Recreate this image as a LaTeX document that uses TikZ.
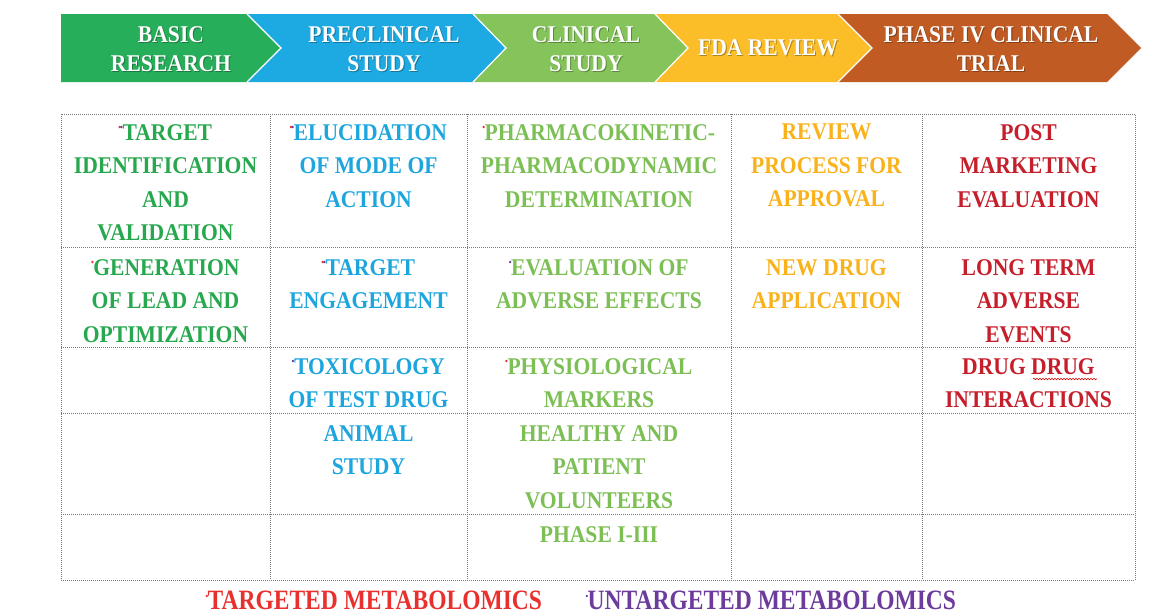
\documentclass[tikz,border=0pt]{standalone}
\usepackage{fontspec}
\usetikzlibrary{decorations.pathmorphing}
\newfontfamily\deco{Liberation Serif}[FakeStretch=0.9]
\newfontfamily\legfont{Liberation Serif}[FakeStretch=0.84]

\definecolor{chgreen}{HTML}{27AE5A}
\definecolor{chblue}{HTML}{1DA9E1}
\definecolor{chlgreen}{HTML}{84C45A}
\definecolor{chyellow}{HTML}{FBBD28}
\definecolor{chbrown}{HTML}{C05B23}
\definecolor{txgreen}{HTML}{27A84E}
\definecolor{txblue}{HTML}{1DA6DE}
\definecolor{txlgreen}{HTML}{7CBF55}
\definecolor{txyellow}{HTML}{F9B21C}
\definecolor{txred}{HTML}{C61F2C}
\definecolor{mkred}{HTML}{E8302E}
\definecolor{mkpurple}{HTML}{6C3B9C}
\definecolor{gridgray}{HTML}{7A7A7A}

% small coloured marker set before an entry
\newcommand\mk[1]{\smash{\raisebox{10pt}{\fontsize{9}{9}\selectfont\textcolor{#1}{\kern-0.5pt\textbullet\kern-0.5pt}}}}

\tikzset{
  chev/.style={draw=white, line width=1.2pt, line join=miter},
  chevtext/.style={text=white, align=center, inner sep=0pt,
    font=\deco\bfseries\fontsize{24}{29}\selectfont},
  chevshadow/.style={chevtext, text=black, opacity=0.3},
  cell/.style={anchor=north, align=center, inner sep=0pt,
    font=\deco\bfseries\fontsize{24}{33.5}\selectfont},
  gridline/.style={draw=gridgray, line width=0.9pt, dash pattern=on 1pt off 1pt},
  legend/.style={inner sep=0pt, font=\legfont\bfseries\fontsize{28}{30}\selectfont}
}

\begin{document}
\begin{tikzpicture}[x=1pt, y=-1pt]
\useasboundingbox (0,0) rectangle (1150,613);

% stage arrows
\fill[chgreen]  (61,14) -- (247,14) -- (281,48) -- (247,82) -- (61,82) -- cycle;
\fill[chblue]   (247,14) -- (473,14) -- (506,48) -- (473,82) -- (247,82) -- (281,48) -- cycle;
\fill[chlgreen] (473,14) -- (655,14) -- (688,48) -- (655,82) -- (473,82) -- (506,48) -- cycle;
\fill[chyellow] (655,14) -- (838,14) -- (872,48) -- (838,82) -- (655,82) -- (688,48) -- cycle;
\fill[chbrown]  (838,14) -- (1107,14) -- (1141,48) -- (1107,82) -- (838,82) -- (872,48) -- cycle;
\draw[chev] (247,14) -- (281,48) -- (247,82);
\draw[chev] (473,14) -- (506,48) -- (473,82);
\draw[chev] (655,14) -- (688,48) -- (655,82);
\draw[chev] (838,14) -- (872,48) -- (838,82);

% stage titles with a soft shadow
\node[chevshadow] (s1) at (172,50) {BASIC\\RESEARCH};
\node[chevshadow] (s2) at (385,50) {PRECLINICAL\\STUDY};
\node[chevshadow] (s3) at (587,50) {CLINICAL\\STUDY};
\node[chevshadow] (s4) at (769,49) {FDA REVIEW};
\node[chevshadow] (s5) at (992,50) {PHASE IV CLINICAL\\TRIAL};
\node[chevtext] (h1) at (171,49) {BASIC\\RESEARCH};
\node[chevtext] (h2) at (384,49) {PRECLINICAL\\STUDY};
\node[chevtext] (h3) at (586,49) {CLINICAL\\STUDY};
\node[chevtext] (h4) at (768,48) {FDA REVIEW};
\node[chevtext] (h5) at (991,49) {PHASE IV CLINICAL\\TRIAL};

% table grid
\draw[gridline] (61,114) rectangle (1135,580);
\foreach \x in {270,467,731,922} \draw[gridline] (\x,114) -- (\x,580);
\foreach \y in {247,347,413,514} \draw[gridline] (61,\y) -- (1135,\y);

% basic research
\node[cell, text=txgreen] (c11) at (165.5,124) {\mk{mkred}\mk{mkpurple}TARGET\\IDENTIFICATION\\AND\\VALIDATION};
\node[cell, text=txgreen] (c12) at (165.5,259) {\mk{mkred}GENERATION\\OF LEAD AND\\OPTIMIZATION};

% preclinical study
\node[cell, text=txblue] (c21) at (368.5,124) {\mk{mkred}\mk{mkpurple}ELUCIDATION\\OF MODE OF\\ACTION};
\node[cell, text=txblue] (c22) at (368.5,259) {\mk{mkred}\mk{mkpurple}TARGET\\ENGAGEMENT};
\node[cell, text=txblue] (c23) at (368.5,358) {\mk{mkpurple}TOXICOLOGY\\OF TEST DRUG};
\node[cell, text=txblue] (c24) at (368.5,425) {ANIMAL\\STUDY};

% clinical study
\node[cell, text=txlgreen] (c31) at (599,124) {\mk{mkred}PHARMACOKINETIC-\\PHARMACODYNAMIC\\DETERMINATION};
\node[cell, text=txlgreen] (c32) at (599,259) {\mk{mkpurple}EVALUATION OF\\ADVERSE EFFECTS};
\node[cell, text=txlgreen] (c33) at (599,358) {\mk{mkred}PHYSIOLOGICAL\\MARKERS};
\node[cell, text=txlgreen] (c34) at (599,425) {HEALTHY AND\\PATIENT\\VOLUNTEERS};
\node[cell, text=txlgreen] (c35) at (599,526) {PHASE I-III};

% fda review
\node[cell, text=txyellow] (c41) at (826.5,124) {REVIEW\\PROCESS FOR\\APPROVAL};
\node[cell, text=txyellow] (c42) at (826.5,259) {NEW DRUG\\APPLICATION};

% phase iv
\node[cell, text=txred] (c51) at (1028.5,124) {POST\\MARKETING\\EVALUATION};
\node[cell, text=txred] (c52) at (1028.5,259) {LONG TERM\\ADVERSE\\EVENTS};
\node[cell, text=txred] (c53) at (1028.5,358) {DRUG DRUG\\INTERACTIONS};
\draw[red!85!black, line width=0.6pt, decorate,
      decoration={snake, amplitude=0.8pt, segment length=3pt}] (1033,379) -- (1097,379);

% legend
\node[legend, text=mkred] (lg1) at (374,600) {\mk{mkred}TARGETED METABOLOMICS};
\node[legend, text=mkpurple] (lg2) at (771,600) {\mk{mkpurple}UNTARGETED METABOLOMICS};
\end{tikzpicture}
\end{document}
